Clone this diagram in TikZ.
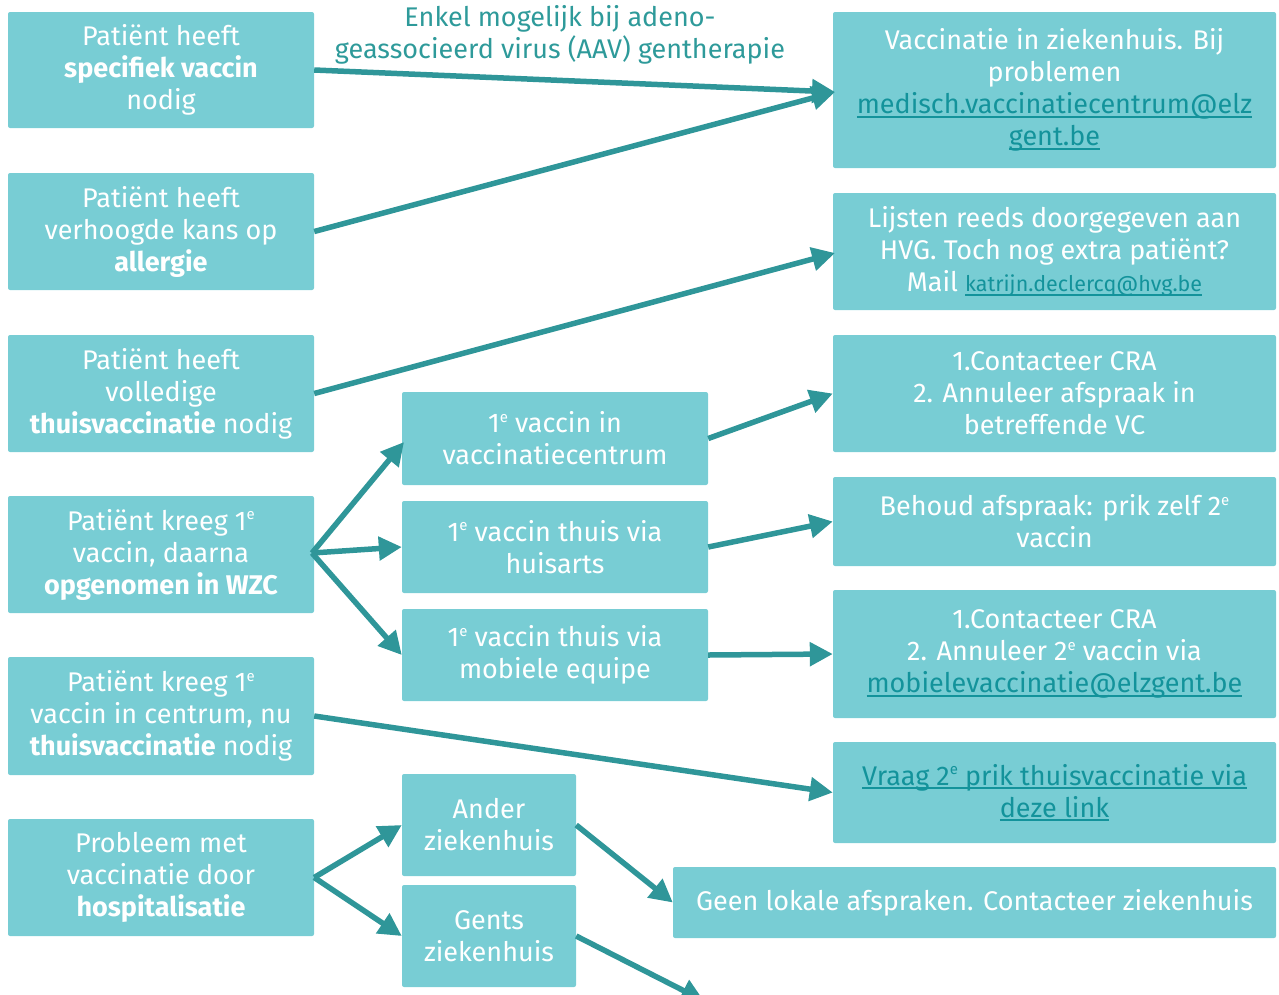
\documentclass[tikz,border=0pt]{standalone}
\usepackage{fontspec}
\setmainfont{Fira Sans}
\usetikzlibrary{arrows.meta}
\definecolor{boxfill}{HTML}{78CDD4}
\definecolor{arrowc}{HTML}{2F9699}
\definecolor{linkc}{HTML}{13939B}
\definecolor{notec}{HTML}{2E9A9A}
\newcommand{\lnk}[1]{\textcolor{linkc}{\setbox0\hbox{#1}\rlap{\rule[-4pt]{\wd0}{1.6pt}}\box0}}
\newcommand{\supe}{\raisebox{10.5pt}{\fontsize{15}{15}\selectfont e}}
\tikzset{
  box/.style={fill=boxfill, rounded corners=2pt, text=white, align=center, inner sep=0pt,
    font=\fontsize{27}{32}\selectfont},
  arr/.style={draw=arrowc, line width=5.5pt, -{Triangle[length=23pt,width=23pt]}},
  note/.style={text=notec, align=center, font=\fontsize{27}{32}\selectfont}
}
\begin{document}
\begin{tikzpicture}[x=1pt,y=-1pt]
\useasboundingbox (0,0) rectangle (1279,994);
% left column
\node[box, minimum width=306pt, minimum height=116pt] (L1) at (161,70) {Patiënt heeft\\\textbf{specifiek vaccin}\\nodig};
\node[box, minimum width=306pt, minimum height=117pt] (L2) at (161,231.5) {Patiënt heeft\\verhoogde kans op\\\textbf{allergie}};
\node[box, minimum width=306pt, minimum height=117pt] (L3) at (161,393.5) {Patiënt heeft\\volledige\\\textbf{thuisvaccinatie} nodig};
\node[box, minimum width=306pt, minimum height=117pt] (L4) at (161,554.5) {Patiënt kreeg 1\supe\\vaccin, daarna\\\textbf{opgenomen in WZC}};
\node[box, minimum width=306pt, minimum height=118pt] (L5) at (161,716) {Patiënt kreeg 1\supe\\vaccin in centrum, nu\\\textbf{thuisvaccinatie} nodig};
\node[box, minimum width=306pt, minimum height=117pt] (L6) at (161,877.5) {Probleem met\\vaccinatie door\\\textbf{hospitalisatie}};
% middle column
\node[box, minimum width=306pt, minimum height=93pt] (M1) at (555,438.5) {1\supe{} vaccin in\\vaccinatiecentrum};
\node[box, minimum width=306pt, minimum height=92pt] (M2) at (555,547) {1\supe{} vaccin thuis via\\huisarts};
\node[box, minimum width=306pt, minimum height=92pt] (M3) at (555,655) {1\supe{} vaccin thuis via\\mobiele equipe};
\node[box, minimum width=174pt, minimum height=102pt] (S1) at (489,825) {Ander\\ziekenhuis};
\node[box, minimum width=174pt, minimum height=102pt] (S2) at (489,936) {Gents\\ziekenhuis};
% right column
\node[box, minimum width=443pt, minimum height=156pt] (R1) at (1054.5,90) {Vaccinatie in ziekenhuis. Bij\\problemen\\\lnk{medisch.vaccinatiecentrum@elz}\\\lnk{gent.be}};
\node[box, minimum width=443pt, minimum height=117pt] (R2) at (1054.5,251.5) {Lijsten reeds doorgegeven aan\\HVG. Toch nog extra patiënt?\\Mail {\fontsize{21.5}{32}\selectfont\lnk{katrijn.declercq@hvg.be}}};
\node[box, minimum width=443pt, minimum height=117pt] (R3) at (1054.5,393.5) {1.Contacteer CRA\\2. Annuleer afspraak in\\betreffende VC};
\node[box, minimum width=443pt, minimum height=89pt] (R4) at (1054.5,521.5) {Behoud afspraak: prik zelf 2\supe\\vaccin};
\node[box, minimum width=443pt, minimum height=128pt] (R5) at (1054.5,654) {1.Contacteer CRA\\2. Annuleer 2\supe{} vaccin via\\\lnk{mobielevaccinatie@elzgent.be}};
\node[box, minimum width=443pt, minimum height=101pt] (R6) at (1054.5,792.5) {\lnk{Vraag 2\supe{} prik thuisvaccinatie via}\\\lnk{deze link}};
\node[box, minimum width=603pt, minimum height=71pt] (R7) at (974.5,902.5) {Geen lokale afspraken. Contacteer ziekenhuis};
% annotation
\node[note] (ann) at (560,35) {Enkel mogelijk bij adeno-\\geassocieerd virus (AAV) gentherapie};
% connectors
\coordinate (r1in) at (835,92);
\coordinate (r2in) at (835,253);
\coordinate (m1in) at (404,442);
\coordinate (l4out) at (312,553);
\coordinate (offpage) at (704,1001);
\draw[arr] (L1.east) -- (r1in);
\draw[arr] (L2.east) -- (r1in);
\draw[arr] (L3.east) -- (r2in);
\draw[arr] (l4out) -- (m1in);
\draw[arr] (l4out) -- (M2.west);
\draw[arr] (l4out) -- (M3.west);
\draw[arr] (M1.east) -- (R3.west);
\draw[arr] (M2.east) -- (R4.west);
\draw[arr] (M3.east) -- (R5.west);
\draw[arr] (L5.east) -- (R6.west);
\draw[arr] (L6.east) -- (S1.west);
\draw[arr] (L6.east) -- (S2.west);
\draw[arr] (S1.east) -- (R7.west);
\begin{scope}
\clip (0,0) rectangle (1279,994);
\draw[arr] (S2.east) -- (offpage);
\end{scope}
\end{tikzpicture}
\end{document}
